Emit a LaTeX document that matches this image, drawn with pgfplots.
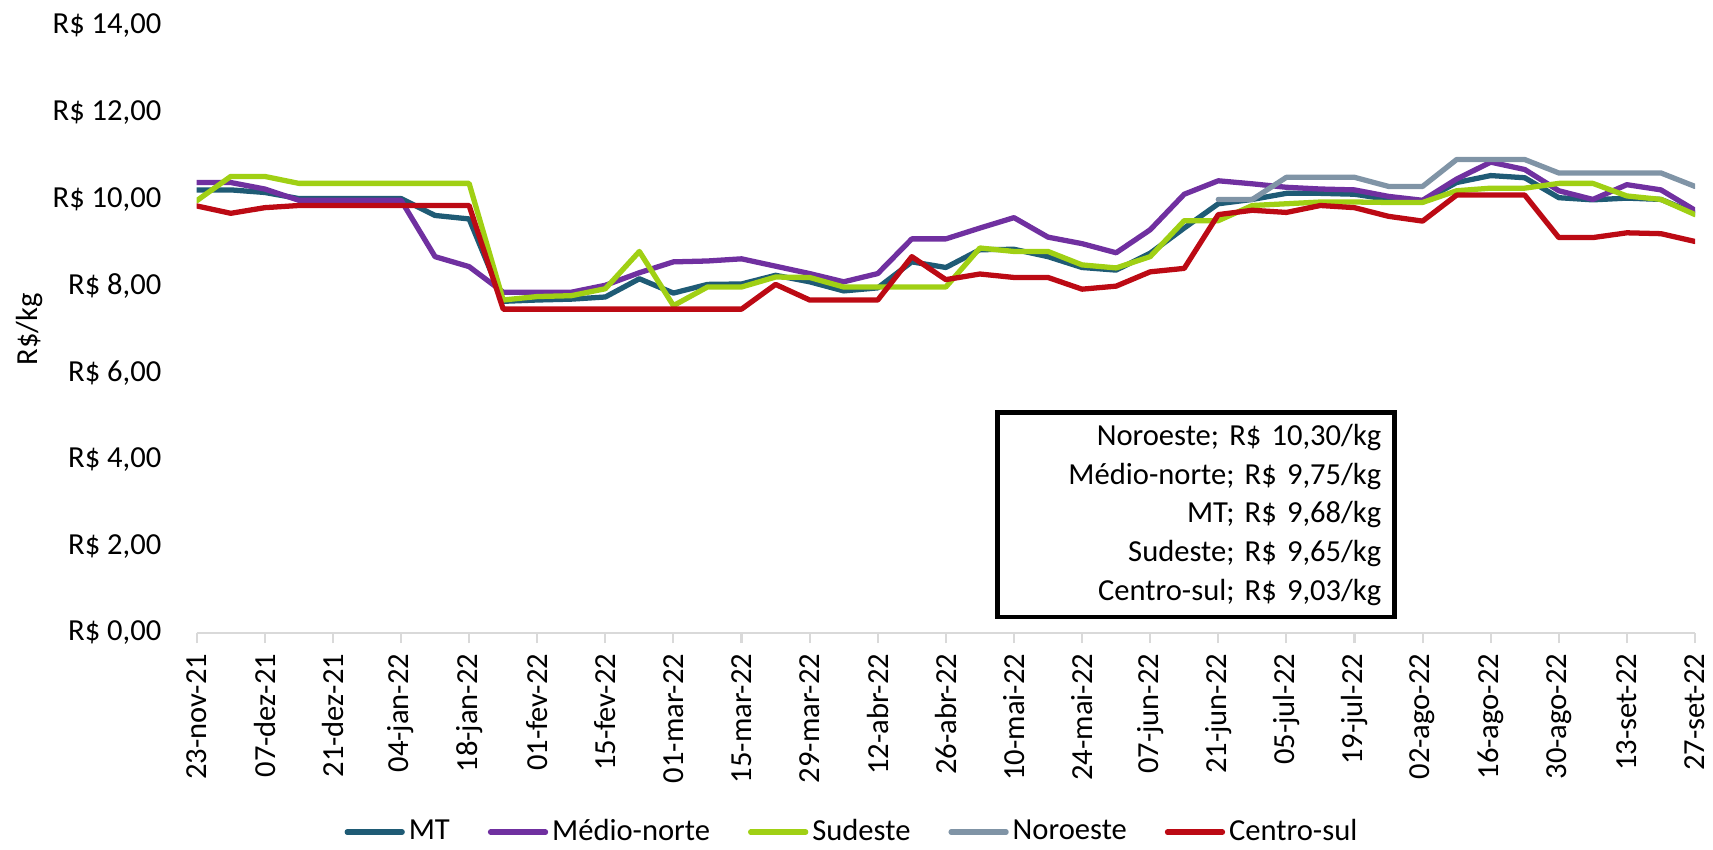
\documentclass[border=0pt]{standalone}
\usepackage{pgfplots}
\usepackage{pgfplotstable}
\pgfplotsset{compat=1.18}
\usepackage{fontspec}
\setmainfont{Carlito}
\frenchspacing

\definecolor{cMT}{RGB}{31,91,117}
\definecolor{cMN}{RGB}{112,48,160}
\definecolor{cSD}{RGB}{160,208,20}
\definecolor{cNO}{RGB}{128,148,166}
\definecolor{cCS}{RGB}{188,10,20}

\newcommand{\fs}{\fontsize{8.7}{10.4}\selectfont}

% semana, MT, Medio-norte, Sudeste, Noroeste, Centro-sul
\pgfplotstableread{
x  mt     mn     sd     no     cs
0  10.22  10.39  9.97   nan    9.85
1  10.22  10.39  10.53  nan    9.68
2  10.16  10.24  10.53  nan    9.81
3  10.02  9.98   10.37  nan    9.86
4  10.02  9.98   10.37  nan    9.86
5  10.02  9.98   10.37  nan    9.86
6  10.02  9.98   10.37  nan    9.86
7  9.63   8.68   10.37  nan    9.86
8  9.55   8.45   10.37  nan    9.86
9  7.65   7.86   7.68   nan    7.47
10 7.68   7.86   7.76   nan    7.47
11 7.70   7.86   7.78   nan    7.47
12 7.75   8.02   7.94   nan    7.47
13 8.17   8.31   8.80   nan    7.47
14 7.84   8.56   7.55   nan    7.47
15 8.04   8.58   7.98   nan    7.47
16 8.05   8.63   7.98   nan    7.47
17 8.25   8.46   8.21   nan    8.04
18 8.10   8.29   8.20   nan    7.68
19 7.89   8.10   7.98   nan    7.68
20 7.96   8.29   7.98   nan    7.68
21 8.56   9.09   7.98   nan    8.68
22 8.43   9.09   7.98   nan    8.15
23 8.84   9.34   8.88   nan    8.28
24 8.85   9.58   8.80   nan    8.20
25 8.68   9.13   8.80   nan    8.20
26 8.43   8.98   8.49   nan    7.93
27 8.37   8.77   8.42   nan    8.00
28 8.76   9.30   8.68   nan    8.33
29 9.34   10.12  9.51   nan    8.41
30 9.90   10.43  9.51   10.00  9.65
31 10.00  10.36  9.86   10.00  9.75
32 10.14  10.28  9.90   10.51  9.70
33 10.14  10.24  9.94   10.51  9.86
34 10.12  10.22  9.94   10.51  9.81
35 10.00  10.07  9.93   10.30  9.61
36 9.96   9.98   9.93   10.30  9.50
37 10.39  10.47  10.20  10.92  10.10
38 10.55  10.86  10.26  10.92  10.10
39 10.50  10.69  10.26  10.92  10.10
40 10.04  10.20  10.37  10.61  9.12
41 9.99   10.00  10.37  10.61  9.12
42 10.03  10.34  10.08  10.61  9.23
43 10.00  10.22  10.00  10.61  9.21
44 9.68   9.75   9.65   10.30  9.03
}\precos

\begin{document}
\begin{tikzpicture}[font=\fs]
\begin{axis}[
  name=ax,
  scale only axis,
  width=149.83mm, height=60.7mm,
  xmin=0, xmax=44, ymin=0, ymax=14,
  axis x line*=bottom, axis y line*=left,
  y axis line style={draw=none},
  x axis line style={draw=black!15, line width=0.6pt},
  tick align=outside, major tick length=1mm,
  xtick style={draw=black!15, line width=0.6pt},
  ytick style={draw=none},
  xtick={0,2,...,44},
  xticklabels={23-nov-21,07-dez-21,21-dez-21,04-jan-22,18-jan-22,01-fev-22,15-fev-22,01-mar-22,15-mar-22,29-mar-22,12-abr-22,26-abr-22,10-mai-22,24-mai-22,07-jun-22,21-jun-22,05-jul-22,19-jul-22,02-ago-22,16-ago-22,30-ago-22,13-set-22,27-set-22},
  xticklabel style={rotate=90, anchor=east, font=\fs, inner sep=1mm},
  ytick={0,2,...,14},
  yticklabels={{R\$ 0,00},{R\$ 2,00},{R\$ 4,00},{R\$ 6,00},{R\$ 8,00},{R\$ 10,00},{R\$ 12,00},{R\$ 14,00}},
  yticklabel style={font=\fs, xshift=-1.3mm},
  ylabel={R\$/kg},
  ylabel style={at={(axis description cs:-0.1113,0.5)}, anchor=center, font=\fs},
  legend columns=-1,
  legend style={at={(0.438,-0.328)}, anchor=center, draw=none, font=\fs,
    nodes={inner xsep=0.4mm},
    /tikz/every even column/.append style={column sep=3.4mm}},
  legend image code/.code={\draw[#1, line cap=round] (0mm,0mm) -- (5.5mm,0mm);},
  every axis plot/.append style={line width=1.5pt, line join=round, line cap=round},
]
\addplot[color=cMT] table[x=x, y=mt] {\precos};
\addplot[color=cMN] table[x=x, y=mn] {\precos};
\addplot[color=cSD] table[x=x, y=sd] {\precos};
\addplot[color=cNO, unbounded coords=jump] table[x=x, y=no] {\precos};
\addplot[color=cCS] table[x=x, y=cs] {\precos};
\legend{MT, Médio-norte, Sudeste, Noroeste, Centro-sul}
\node[draw, line width=1.3pt, anchor=north east, minimum width=39.7mm, minimum height=19.2mm,
  text width=37mm, align=right, inner xsep=1.3mm, font=\fontsize{8.7}{11}\selectfont]
  at (axis cs:35.25,5.14)
  {Noroeste; R\$ 10,30/kg\\Médio-norte; R\$ 9,75/kg\\MT; R\$ 9,68/kg\\Sudeste; R\$ 9,65/kg\\Centro-sul; R\$ 9,03/kg};
\end{axis}
\pgfresetboundingbox
\path[use as bounding box] ([xshift=-19.67mm,yshift=-21.6mm]ax.south west) rectangle ([xshift=151.63mm,yshift=63.3mm]ax.south west);
\end{tikzpicture}
\end{document}
